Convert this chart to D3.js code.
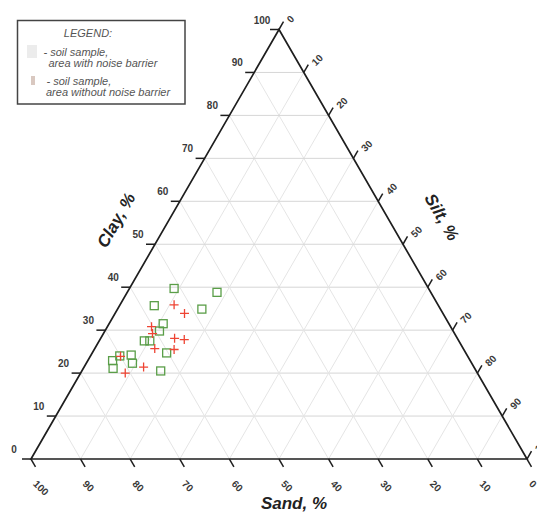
<!DOCTYPE html>
<html>
<head>
<meta charset="utf-8">
<script src="https://cdn.jsdelivr.net/npm/d3@7"></script>
<style>
  html, body { margin: 0; padding: 0; background: #fff; }
  svg { display: block; }
</style>
</head>
<body>
<svg id="chart" width="537" height="513"></svg>
<script>
// Soil texture samples (percent clay / silt / sand)
// Area with noise barrier
const barrierClay = [39.7, 38.8, 35.7, 34.9, 31.5, 29.8, 27.5, 27.5, 24.7, 24.0, 22.9, 24.2, 22.3, 21.1, 20.5];
const barrierSilt = [9.0, 18.1, 7.0, 17.0, 10.9, 11.0, 9.1, 10.2, 15.0, 5.9, 5.0, 8.1, 9.3, 6.0, 15.9];
const barrierSand = [51.3, 43.1, 57.3, 48.1, 57.6, 59.2, 63.4, 62.3, 60.3, 70.1, 72.1, 67.7, 68.4, 72.9, 63.6];

// Area without noise barrier
const openClay = [35.9, 33.9, 30.8, 29.2, 28.1, 27.8, 25.7, 25.5, 23.9, 21.4, 20.0];
const openSilt = [10.9, 14.0, 8.9, 9.9, 14.9, 17.0, 12.1, 16.1, 6.1, 12.0, 9.0];
const openSand = [53.2, 52.1, 60.3, 60.9, 57.0, 55.2, 62.2, 58.4, 70.0, 66.6, 71.0];

const tickValues = [0, 10, 20, 30, 40, 50, 60, 70, 80, 90, 100];
const gridValues = [10, 20, 30, 40, 50, 60, 70, 80, 90];

const legendLines = [
  "- soil sample,",
  "area with noise barrier",
  "- soil sample,",
  "area without noise barrier"
];

const svg = d3.select("#chart");

// Horizontal position follows silt + clay/2, vertical follows clay
const xs = d3.scaleLinear().domain([0, 100]).range([31, 527]);
const ys = d3.scaleLinear().domain([0, 100]).range([459, 29.5]);
const proj = (clay, silt) => [xs(silt + clay / 2), ys(clay)];

const line = d3.line();
const TICK = 9;
const dirDown = [0.5, 0.866];   // parallel to the right edge, pointing down
const dirUp = [0.5, -0.866];    // parallel to the left edge, pointing up

// Grid
const grid = svg.append("g").attr("fill", "none").attr("stroke-width", 1);
gridValues.forEach(v => {
  grid.append("path").attr("stroke", "#d6d6d6")
    .attr("d", line([proj(v, 0), proj(v, 100 - v)]));
  grid.append("path").attr("stroke", "#e5e5e5")
    .attr("d", line([proj(0, v), proj(100 - v, v)]));
  grid.append("path").attr("stroke", "#e5e5e5")
    .attr("d", line([proj(0, 100 - v), proj(100 - v, 0)]));
});

// Triangle outline
svg.append("path")
  .attr("fill", "none").attr("stroke", "#1e1e1e").attr("stroke-width", 1.7)
  .attr("stroke-linejoin", "miter")
  .attr("d", line([proj(0, 0), proj(0, 100), proj(100, 0)]) + "Z");

// Ticks and labels
const axes = svg.append("g").attr("stroke", "#1e1e1e").attr("stroke-width", 1.5);
const labels = svg.append("g")
  .attr("font-family", "Liberation Sans, Arial, sans-serif")
  .attr("font-size", 10).attr("font-weight", "bold").attr("fill", "#3a3a3a");

tickValues.forEach(v => {
  // Clay: left edge, ticks pointing left
  const c = proj(v, 0);
  axes.append("line").attr("x1", c[0]).attr("y1", c[1]).attr("x2", c[0] - TICK).attr("y2", c[1]);
  labels.append("text").attr("x", c[0] - 17).attr("y", c[1] - 9.5).attr("dy", "0.35em")
    .attr("text-anchor", "middle").text(v);

  // Sand: bottom edge, 100 at the left
  const s = proj(0, 100 - v);
  axes.append("line").attr("x1", s[0]).attr("y1", s[1])
    .attr("x2", s[0] + dirDown[0] * TICK).attr("y2", s[1] + dirDown[1] * TICK);
  const sx = s[0] + 4, sy = s[1] + 23;
  labels.append("text").attr("x", sx).attr("y", sy).attr("dy", "0.35em")
    .attr("transform", `rotate(45 ${sx} ${sy})`).text(v);

  // Silt: right edge, 0 at the top
  const t = proj(100 - v, v);
  axes.append("line").attr("x1", t[0]).attr("y1", t[1])
    .attr("x2", t[0] + dirUp[0] * TICK).attr("y2", t[1] + dirUp[1] * TICK);
  const tx = t[0] + 9.5, ty = t[1] - 8.5;
  labels.append("text").attr("x", tx).attr("y", ty).attr("dy", "0.35em")
    .attr("transform", `rotate(-45 ${tx} ${ty})`).text(v);
});

// Axis titles
const title = svg.append("g")
  .attr("font-family", "Liberation Sans, Arial, sans-serif")
  .attr("font-size", 17).attr("font-weight", "bold").attr("font-style", "italic")
  .attr("fill", "#222").attr("text-anchor", "middle");
title.append("text").attr("x", 294).attr("y", 503).attr("dy", "0.35em").text("Sand, %");
title.append("text").attr("x", 116).attr("y", 220).attr("dy", "0.35em")
  .attr("transform", "rotate(-60 116 220)").text("Clay, %");
title.append("text").attr("x", 442).attr("y", 217).attr("dy", "0.35em")
  .attr("transform", "rotate(60 442 217)").text("Silt, %");

// Samples: area with noise barrier (open squares)
const SQ = 8;
svg.append("g").selectAll("rect")
  .data(barrierClay.map((c, i) => ({ clay: c, silt: barrierSilt[i], sand: barrierSand[i] })))
  .join("rect")
  .attr("x", d => proj(d.clay, d.silt)[0] - SQ / 2)
  .attr("y", d => proj(d.clay, d.silt)[1] - SQ / 2)
  .attr("width", SQ).attr("height", SQ)
  .attr("fill", "none").attr("stroke", "#5a9e48").attr("stroke-width", 1.3);

// Samples: area without noise barrier (crosses)
const CR = 4.5;
svg.append("g").selectAll("path")
  .data(openClay.map((c, i) => ({ clay: c, silt: openSilt[i], sand: openSand[i] })))
  .join("path")
  .attr("d", d => {
    const [x, y] = proj(d.clay, d.silt);
    return `M${x - CR},${y}H${x + CR}M${x},${y - CR}V${y + CR}`;
  })
  .attr("fill", "none").attr("stroke", "#ee4433").attr("stroke-width", 1.3);

// Legend
const lg = svg.append("g");
lg.append("rect").attr("x", 17.5).attr("y", 20.5).attr("width", 167.5).attr("height", 83.5)
  .attr("fill", "#fff").attr("stroke", "#444").attr("stroke-width", 1.5);
lg.append("rect").attr("x", 27).attr("y", 45).attr("width", 10).attr("height", 13)
  .attr("fill", "#ececec");
lg.append("rect").attr("x", 31).attr("y", 76).attr("width", 4).attr("height", 9)
  .attr("fill", "#d9c8c0");
const lt = lg.append("g")
  .attr("font-family", "Liberation Sans, Arial, sans-serif")
  .attr("font-size", 11).attr("font-style", "italic").attr("fill", "#555");
lt.append("text").attr("x", 88).attr("y", 36.5).attr("text-anchor", "middle").text("LEGEND:");
const lx = [43.5, 48.5, 46.5, 46];
const ly = [55.5, 67, 84.5, 95.5];
legendLines.forEach((s, i) => {
  lt.append("text").attr("x", lx[i]).attr("y", ly[i]).text(s);
});
</script>
</body>
</html>
